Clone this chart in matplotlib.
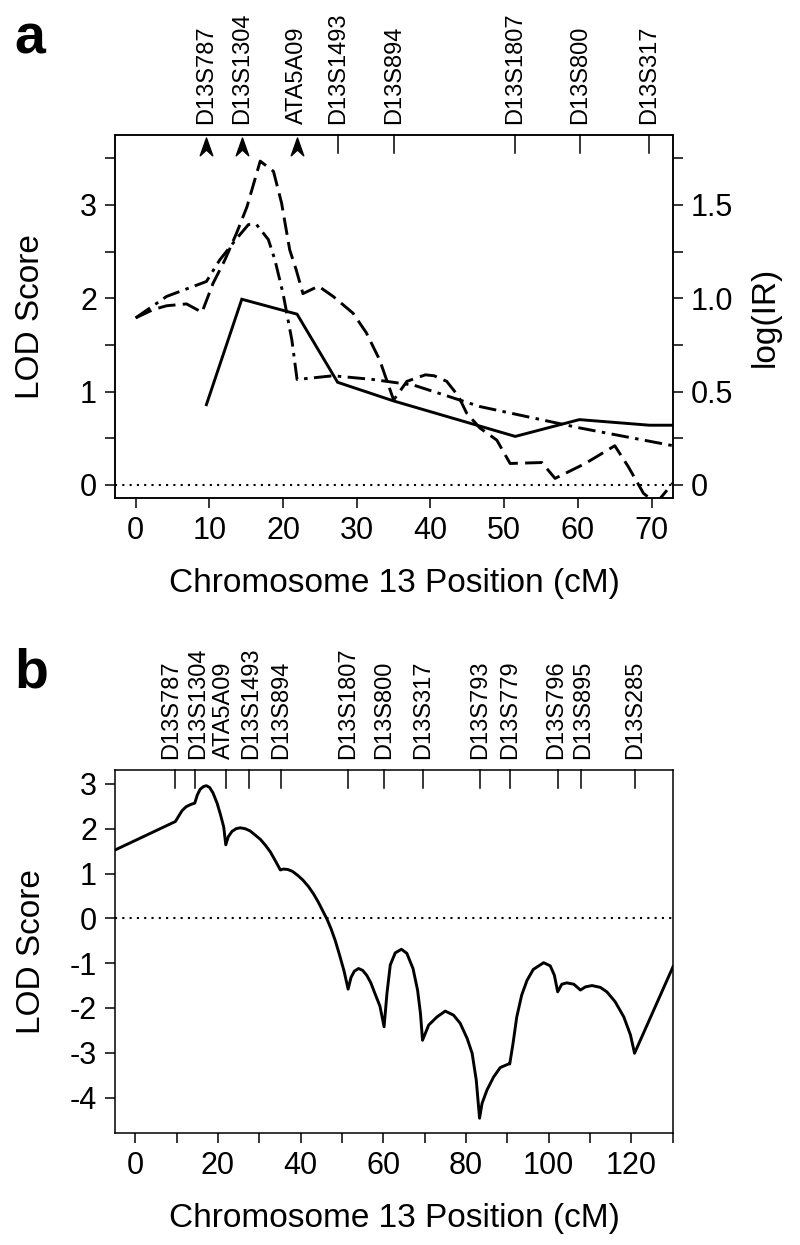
import matplotlib
matplotlib.use("Agg")
import matplotlib.pyplot as plt
from matplotlib.path import Path
import numpy as np

plt.rcParams['font.family'] = ['Liberation Sans', 'DejaVu Sans']
plt.rcParams['axes.unicode_minus'] = False

# marker positions (cM)
markers_a = ['D13S787', 'D13S1304', 'ATA5A09', 'D13S1493', 'D13S894',
             'D13S1807', 'D13S800', 'D13S317']
pos_a = [9.6, 14.4, 21.9, 27.5, 35.1, 51.5, 60.3, 69.7]
arrow_markers = ['D13S787', 'D13S1304', 'ATA5A09']

markers_b = ['D13S787', 'D13S1304', 'ATA5A09', 'D13S1493', 'D13S894',
             'D13S1807', 'D13S800', 'D13S317', 'D13S793', 'D13S779',
             'D13S796', 'D13S895', 'D13S285']
pos_b = [9.6, 14.4, 21.9, 27.5, 35.2, 51.5, 60.3, 69.7, 83.5, 90.6,
         102.3, 107.8, 121.0]

# panel a: two-point LOD (solid)
solid_x = [9.6, 14.4, 21.9, 27.4, 35.0, 51.5, 60.2, 69.7, 73.0]
solid_y = [0.86, 1.99, 1.83, 1.10, 0.90, 0.52, 0.70, 0.64, 0.64]

# panel a: multipoint LOD (dashed)
dash_x = [0.0, 2.4, 4.2, 6.9, 9.0, 10.5, 12.1, 13.7, 15.1, 16.9, 18.7, 19.8,
          20.9, 21.8, 22.7, 24.8, 26.8, 29.5, 31.3, 33.1, 35.0, 36.8, 39.3,
          40.5, 42.2, 43.8, 44.9, 46.7, 49.0, 50.8, 55.1, 56.9, 61.0, 65.0,
          66.8, 68.9, 70.0, 71.1, 72.9]
dash_y = [1.79, 1.88, 1.92, 1.94, 1.85, 2.16, 2.41, 2.70, 2.98, 3.47, 3.36,
          3.02, 2.52, 2.30, 2.05, 2.13, 2.02, 1.84, 1.63, 1.34, 0.91, 1.11,
          1.18, 1.17, 1.11, 0.95, 0.77, 0.61, 0.48, 0.23, 0.24, 0.07, 0.23,
          0.42, 0.20, -0.09, -0.16, -0.15, 0.02]

# panel a: log(IR) curve (dash-dot), in LOD-axis units (2 x log(IR))
dd_x = [0.0, 4.2, 9.6, 11.4, 13.7, 15.3, 16.4, 18.0, 18.9, 20.0, 21.2, 21.9,
        26.8, 32.2, 37.7, 46.7, 60.3, 72.9]
dd_y = [1.79, 2.02, 2.18, 2.41, 2.64, 2.79, 2.79, 2.63, 2.41, 2.05, 1.55,
        1.13, 1.17, 1.13, 1.07, 0.84, 0.61, 0.42]

# panel b: multipoint LOD across chromosome 13
b_x = [-5.0, 9.7, 10.5, 11.3, 12.3, 13.4, 14.4, 15.0, 15.7, 16.5, 17.2, 18.0,
       18.8, 19.8, 20.6, 21.4, 21.9, 22.5, 23.4, 24.4, 25.4, 26.6, 27.8, 29.0,
       30.3, 31.5, 32.7, 33.8, 35.1, 35.9, 36.9, 38.0, 39.3, 40.6, 41.9, 43.1,
       44.3, 45.4, 46.4, 47.4, 48.4, 49.4, 50.5, 51.5, 52.2, 53.0, 54.0, 55.0,
       56.0, 57.0, 58.0, 59.2, 60.2, 60.9, 61.7, 62.9, 64.4, 65.7, 67.2, 68.3,
       69.0, 69.5, 71.0, 73.0, 75.0, 77.0, 78.6, 80.3, 81.5, 82.5, 83.3, 83.9,
       85.1, 86.7, 88.3, 90.3, 90.6, 91.4, 92.3, 93.5, 94.8, 96.3, 98.8, 100.4,
       101.4, 102.2, 103.2, 104.4, 106.1, 107.7, 108.9, 110.5, 112.5, 114.1,
       116.1, 118.2, 119.8, 120.8, 130.1]
b_y = [1.52, 2.16, 2.28, 2.40, 2.49, 2.54, 2.57, 2.75, 2.88, 2.94, 2.96, 2.92,
       2.80, 2.57, 2.32, 2.04, 1.64, 1.82, 1.94, 2.00, 2.02, 2.00, 1.95, 1.86,
       1.76, 1.63, 1.48, 1.30, 1.08, 1.10, 1.09, 1.05, 0.96, 0.85, 0.71, 0.55,
       0.36, 0.16, -0.02, -0.24, -0.50, -0.81, -1.17, -1.58, -1.32, -1.18,
       -1.12, -1.16, -1.27, -1.44, -1.68, -1.96, -2.42, -1.67, -1.04, -0.77,
       -0.69, -0.78, -1.12, -1.60, -2.12, -2.72, -2.38, -2.20, -2.07, -2.16,
       -2.34, -2.68, -3.01, -3.61, -4.46, -4.13, -3.83, -3.54, -3.33, -3.25,
       -3.25, -2.79, -2.20, -1.71, -1.38, -1.14, -0.99, -1.06, -1.27, -1.64,
       -1.47, -1.44, -1.47, -1.60, -1.53, -1.50, -1.54, -1.64, -1.86, -2.20,
       -2.60, -3.01, -1.08]

W, H = 800, 1245
fig = plt.figure(figsize=(W / 100, H / 100), dpi=100)

LW = 2.1
TICK_FS = 22
LABEL_FS = 24
MARK_FS = 17

# arrowhead marker (chevron pointing up)
arrow_path = Path([(0, 1), (0.6, -0.7), (0, -0.15), (-0.6, -0.7), (0, 1)],
                  [Path.MOVETO, Path.LINETO, Path.LINETO, Path.LINETO, Path.CLOSEPOLY])


def style_axes(ax):
    for s in ax.spines.values():
        s.set_linewidth(1.1)
    ax.tick_params(which='both', direction='out', length=7, width=1.1,
                   labelsize=TICK_FS, pad=6)


def spread(xs, min_gap):
    """push label positions apart so they don't overlap"""
    xs = list(xs)
    for _ in range(50):
        moved = False
        for i in range(len(xs) - 1):
            gap = xs[i + 1] - xs[i]
            if gap < min_gap - 1e-6:
                c = (xs[i] + xs[i + 1]) / 2
                xs[i] = c - min_gap / 2
                xs[i + 1] = c + min_gap / 2
                moved = True
        if not moved:
            break
    return xs


def marker_labels(ax, names, positions, label_pos, skip_ticks=()):
    tr = ax.get_xaxis_transform()
    for name, p, lp in zip(names, positions, label_pos):
        if name not in skip_ticks:
            ax.plot([p, p], [1.0, 0.95], color='black', lw=1.1,
                    transform=tr, clip_on=False)
        ax.text(lp, 1.03, name, rotation=90, ha='center', va='bottom',
                fontsize=MARK_FS, transform=tr)


# ---------------- panel a ----------------
ax = fig.add_axes([115 / W, 1 - 498 / H, 558 / W, 363 / H])
style_axes(ax)
ax.set_xlim(-2.8, 72.9)
ax.set_ylim(-0.14, 3.75)
ax.axhline(0, color='black', lw=1.5, linestyle=(0, (1, 2.5)))
ax.plot(solid_x, solid_y, color='black', lw=LW, solid_joinstyle='miter')
ax.plot(dash_x, dash_y, color='black', lw=LW, linestyle=(0, (6, 2.5)))
ax.plot(dd_x, dd_y, color='black', lw=LW, linestyle=(0, (6, 2.2, 1.2, 2.2)))

ax.set_xticks(np.arange(0, 71, 10))
ax.set_yticks(np.arange(0, 3.6, 0.5))
ax.set_yticklabels(['0', '', '1', '', '2', '', '3', ''])
ax.set_xlabel('Chromosome 13 Position (cM)', fontsize=LABEL_FS, labelpad=16)
ax.set_ylabel('LOD Score', fontsize=LABEL_FS, labelpad=24)

ax2 = ax.twinx()
style_axes(ax2)
ax2.set_ylim(-0.07, 3.75 / 2)
ax2.set_yticks(np.arange(0, 1.8, 0.25))
ax2.set_yticklabels(['0', '', '0.5', '', '1.0', '', '1.5', ''])
ax2.set_ylabel('log(IR)', fontsize=LABEL_FS, labelpad=12)

marker_labels(ax, markers_a, pos_a, pos_a, skip_ticks=arrow_markers)
arrow_x = [p for n, p in zip(markers_a, pos_a) if n in arrow_markers]
ax.plot(arrow_x, [0.964] * len(arrow_x), linestyle='none', marker=arrow_path,
        markersize=15, color='black', transform=ax.get_xaxis_transform(),
        clip_on=False)

fig.text(14 / W, 1 - 53 / H, 'a', fontsize=40, fontweight='bold',
         ha='left', va='baseline')

# ---------------- panel b ----------------
bx = fig.add_axes([115 / W, 1 - 1133 / H, 558 / W, 363 / H])
style_axes(bx)
bx.set_xlim(-4.9, 130.1)
bx.set_ylim(-4.79, 3.31)
bx.axhline(0, color='black', lw=1.5, linestyle=(0, (1, 2.5)))
bx.plot(b_x, b_y, color='black', lw=LW)

bx.set_xticks(np.arange(0, 121, 20))
bx.set_xticks(np.arange(10, 131, 20), minor=True)
bx.set_yticks(np.arange(-4, 4, 1))
bx.set_xlabel('Chromosome 13 Position (cM)', fontsize=LABEL_FS, labelpad=16)
bx.set_ylabel('LOD Score', fontsize=LABEL_FS, labelpad=16)

marker_labels(bx, markers_b, pos_b, spread(pos_b, 6.4))

fig.text(14 / W, 1 - 688 / H, 'b', fontsize=40, fontweight='bold',
         ha='left', va='baseline')

fig.savefig('out.png', dpi=100)
